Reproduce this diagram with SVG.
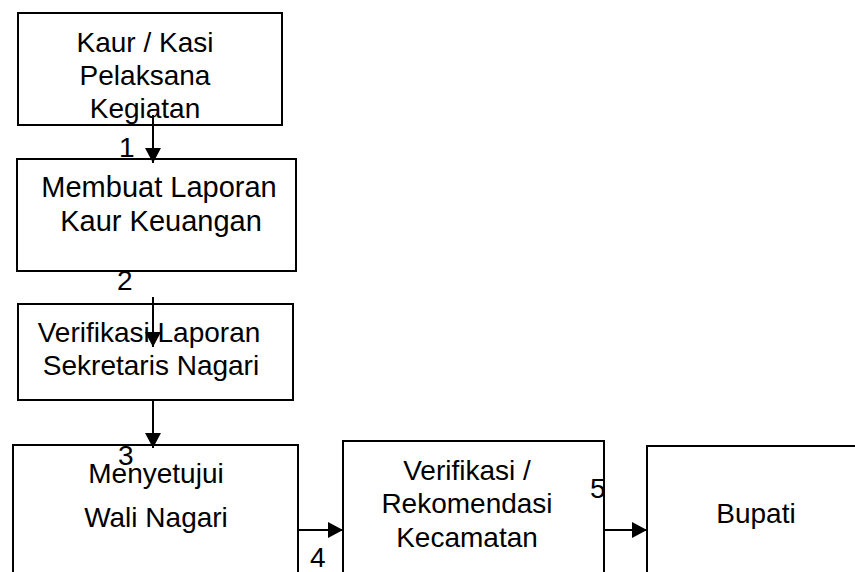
<svg xmlns="http://www.w3.org/2000/svg" width="855" height="572" viewBox="0 0 855 572">
  <style>
    .box { fill: #ffffff; stroke: #000000; stroke-width: 2; }
    .t { font-family: "Liberation Sans", Arial, sans-serif; font-size: 28px; fill: #000000; text-anchor: middle; }
    .t29 { font-size: 29px; }
    .n { font-family: "Liberation Sans", Arial, sans-serif; font-size: 28px; fill: #000000; }
    .c { stroke: #000000; stroke-width: 2; fill: none; marker-end: url(#ah); }
  </style>
  <defs>
    <marker id="ah" viewBox="0 0 10 10" markerWidth="15" markerHeight="16" refX="10" refY="5" orient="auto" markerUnits="userSpaceOnUse" preserveAspectRatio="none">
      <path d="M0,0 L10,5 L0,10 z" fill="#000000"/>
    </marker>
  </defs>
  <rect width="855" height="572" fill="#ffffff"/>

  <g id="node-kaur-kasi">
    <rect class="box" x="18" y="13" width="264" height="112"/>
    <text class="t" x="145" y="52">Kaur / Kasi</text>
    <text class="t" x="145" y="85">Pelaksana</text>
    <text class="t" x="145" y="118">Kegiatan</text>
  </g>
  <g id="node-membuat-laporan">
    <rect class="box" x="17" y="159" width="279" height="112"/>
    <text class="t t29" x="159" y="197">Membuat Laporan</text>
    <text class="t t29" x="161" y="231">Kaur Keuangan</text>
  </g>
  <g id="node-verifikasi-laporan">
    <rect class="box" x="18" y="304" width="275" height="96"/>
    <text class="t" x="149" y="342">Verifikasi Laporan</text>
    <text class="t" x="151" y="375">Sekretaris Nagari</text>
  </g>
  <g id="node-wali-nagari">
    <rect class="box" x="13" y="445" width="285" height="160"/>
    <text class="t" x="156" y="483">Menyetujui</text>
    <text class="t" x="156" y="527">Wali Nagari</text>
  </g>
  <g id="node-kecamatan">
    <rect class="box" x="343" y="441" width="261" height="160"/>
    <text class="t" x="467" y="480">Verifikasi /</text>
    <text class="t" x="467" y="513">Rekomendasi</text>
    <text class="t" x="467" y="547">Kecamatan</text>
  </g>
  <g id="node-bupati">
    <rect class="box" x="647" y="446" width="260" height="160"/>
    <text class="t" x="756" y="523">Bupati</text>
  </g>

  <g id="connectors">
    <line class="c" x1="153" y1="115" x2="153" y2="163"/>
    <line class="c" x1="153" y1="297" x2="153" y2="347"/>
    <line class="c" x1="153" y1="400" x2="153" y2="448"/>
    <line class="c" x1="298" y1="530" x2="343" y2="530"/>
    <line class="c" x1="604" y1="530" x2="647" y2="530"/>
    <text class="n" x="119" y="157">1</text>
    <text class="n" x="117" y="290">2</text>
    <text class="n" x="118" y="465">3</text>
    <text class="n" x="310" y="567">4</text>
    <text class="n" x="590" y="498">5</text>
  </g>
</svg>
